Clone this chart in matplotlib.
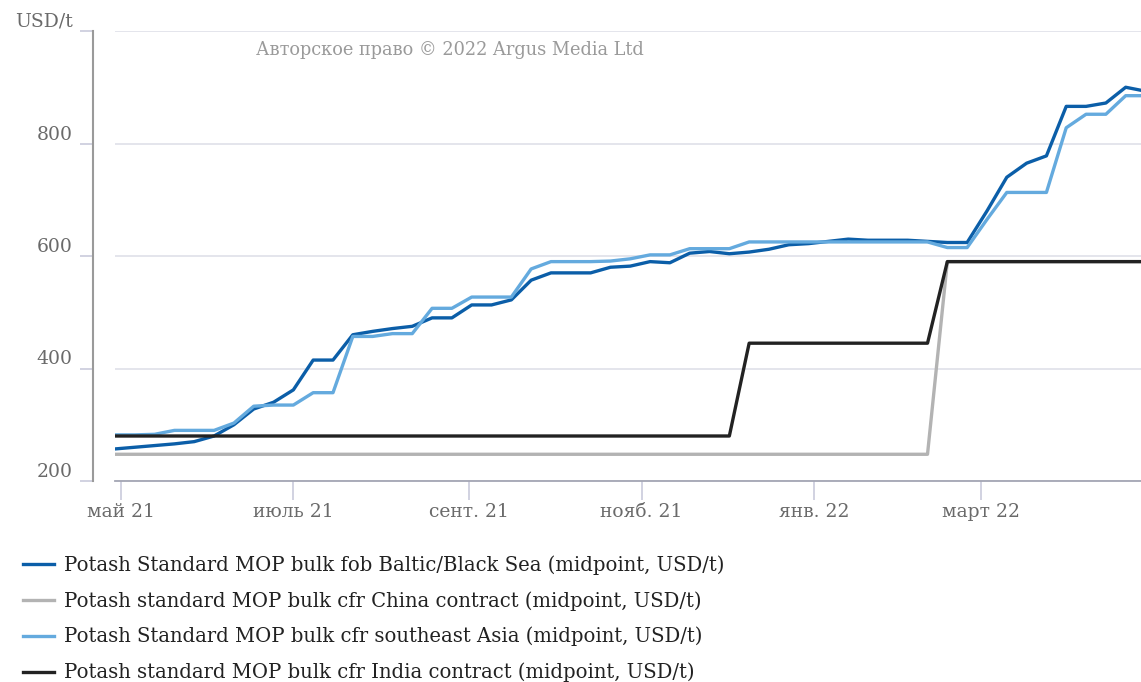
import numpy as np
import pandas as pd
import matplotlib.pyplot as plt
import matplotlib.dates as mdates

plt.switch_backend('Agg')

# weekly assessments, Thursdays
dates = pd.date_range('2021-04-29', periods=53, freq='7D')

baltic = [257, 260, 263, 266, 270, 280, 300, 328, 340, 362,
          415, 415, 460, 466, 471, 475, 490, 490, 513, 513,
          522, 557, 570, 570, 570, 580, 582, 590, 588, 605,
          608, 604, 607, 612, 620, 622, 626, 630, 628, 628,
          628, 626, 624, 624, 680, 740, 765, 778, 866, 866,
          872, 900, 893]
china = [247.5] * 42 + [590] * 11
se_asia = [282, 282, 283, 290, 290, 290, 303, 333, 335, 335,
           357, 357, 457, 457, 462, 462, 507, 507, 527, 527,
           527, 577, 590, 590, 590, 591, 595, 602, 602, 613,
           613, 613, 625, 625, 625, 625, 625, 625, 625, 625,
           625, 625, 615, 615, 665, 713, 713, 713, 828, 852,
           852, 885, 885]
india = [280] * 32 + [445] * 10 + [590] * 11

series_names = [
    'Potash Standard MOP bulk fob Baltic/Black Sea (midpoint, USD/t)',
    'Potash standard MOP bulk cfr China contract (midpoint, USD/t)',
    'Potash Standard MOP bulk cfr southeast Asia (midpoint, USD/t)',
    'Potash standard MOP bulk cfr India contract (midpoint, USD/t)',
]
series_colors = ['#0b5ea8', '#b3b3b3', '#64aade', '#222222']

yticks = [200, 400, 600, 800, 1000]
ytick_labels = ['200', '400', '600', '800', 'USD/t']
xtick_dates = ['2021-05-01', '2021-07-01', '2021-09-01', '2021-11-01', '2022-01-01', '2022-03-01']
xtick_labels = ['май 21', 'июль 21', 'сент. 21', 'нояб. 21', 'янв. 22', 'март 22']

W, H = 1141, 682
serif = 'DejaVu Serif'
fig = plt.figure(figsize=(W / 100, H / 100), dpi=100)
ax = fig.add_axes([115 / W, (H - 481) / H, 1039 / W, 450 / H])

# spines first (set_position resets the tick labels)
for s in ['top', 'right']:
    ax.spines[s].set_visible(False)
ax.spines['left'].set_position(('outward', 16))
ax.spines['left'].set_color('#9a9a9a')
ax.spines['left'].set_linewidth(1.5)
ax.spines['bottom'].set_color('#a4a6b4')
ax.spines['bottom'].set_linewidth(1.3)

lines = []
for vals, name, col in zip([baltic, china, se_asia, india], series_names, series_colors):
    ln, = ax.plot(dates, vals, color=col, lw=2.4, label=name, solid_joinstyle='round')
    lines.append(ln)

ax.set_xlim(pd.Timestamp('2021-04-29'), pd.Timestamp('2022-05-01'))
ax.set_ylim(200, 1000)

ax.set_yticks(yticks)
ax.set_yticklabels(ytick_labels, family=serif, fontsize=13.5, color='#6a6a6a', va='bottom')
ax.set_xticks([mdates.date2num(pd.Timestamp(d)) for d in xtick_dates])
ax.set_xticklabels(xtick_labels, family=serif, fontsize=13.5, color='#6a6a6a')

ax.grid(axis='y', color='#e2e3ea', lw=1.3)
ax.set_axisbelow(True)

ax.tick_params(axis='y', length=9.5, width=1.2, color='#c9cbdc', pad=5)
ax.tick_params(axis='x', length=14, width=1.2, color='#c9cbdc', pad=1.5)

fig.text(450 / W, 1 - 50 / H, 'Авторское право © 2022 Argus Media Ltd',
         ha='center', va='center', family=serif, fontsize=12.8, color='#9a9a9a')

leg = fig.legend(handles=lines, loc='upper left', bbox_to_anchor=(23 / W, 1 - 555 / H),
                 frameon=False, handlelength=1.6, handletextpad=0.5, labelspacing=0.83,
                 borderaxespad=0, borderpad=0,
                 prop={'family': serif, 'size': 14.1})
for t in leg.get_texts():
    t.set_color('#222222')

fig.savefig('out.png', dpi=100)
